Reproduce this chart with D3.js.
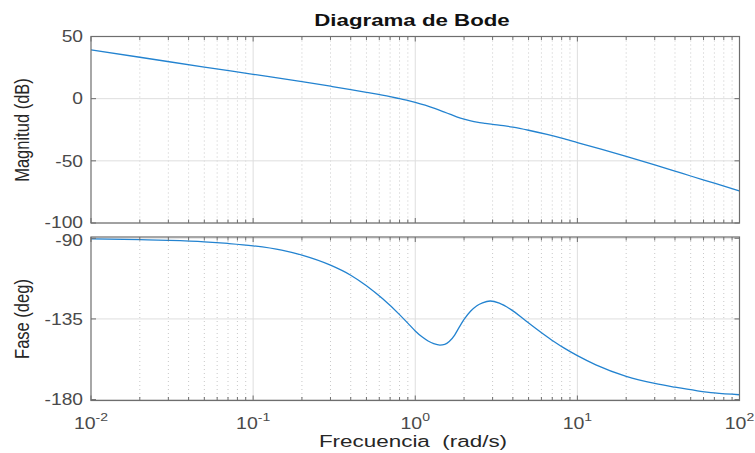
<!DOCTYPE html>
<html>
<head>
<meta charset="utf-8">
<script src="https://cdn.jsdelivr.net/npm/d3@7"></script>
<style>
  html, body { margin: 0; padding: 0; background: #fff; }
  svg { display: block; }
  text { white-space: pre; }
</style>
</head>
<body>
<svg id="chart" width="755" height="453"></svg>
<script>
// Frequency response samples (rad/s)
const magFreq = [0.01, 0.02, 0.05, 0.1, 0.2, 0.3, 0.4, 0.5, 0.7, 0.8, 0.92, 1.0, 1.15, 1.33, 1.5, 1.65, 1.8, 2.0, 2.2, 2.4, 2.7, 3.0, 3.5, 4.0, 5.0, 6.5, 8.0, 10, 14, 20, 30, 40, 50, 70, 100];
const magDb   = [39.2, 33.3, 25.4, 19.6, 13.7, 10.0, 7.3, 5.1, 1.6, 0, -1.7, -2.9, -5.2, -8.0, -10.6, -12.7, -14.6, -16.5, -17.8, -18.8, -19.8, -20.6, -21.7, -22.9, -25.4, -28.8, -31.8, -35.3, -40.6, -46.4, -53.3, -58.3, -62.2, -68.0, -74.2];

const phaseFreq = [0.01, 0.02, 0.03, 0.05, 0.07, 0.1, 0.15, 0.2, 0.3, 0.4, 0.5, 0.63, 0.8, 0.92, 1.0, 1.1, 1.2, 1.3, 1.42, 1.52, 1.62, 1.75, 1.85, 2.0, 2.2, 2.4, 2.6, 2.9, 3.3, 3.9, 4.8, 6.1, 7.2, 8.3, 10, 13, 20, 30, 40, 55, 70, 100];
const phaseDeg  = [-90.4, -90.8, -91.2, -92.0, -92.9, -94.2, -96.6, -99.4, -105.0, -110.6, -116.5, -123.8, -132.6, -138.3, -141.7, -145.0, -147.3, -148.8, -149.6, -149.2, -147.6, -144.0, -140.3, -135.3, -130.6, -127.6, -126.0, -125.0, -126.2, -129.8, -136.0, -143.1, -147.7, -151.3, -155.5, -160.6, -167.0, -171.0, -173.1, -175.1, -176.3, -177.3];

// Axis ticks
const xDecades = [0.01, 0.1, 1, 10, 100];
const xExponents = ["-2", "-1", "0", "1", "2"];
const magTicks = [50, 0, -50, -100];
const phaseTicks = [-90, -135, -180];

const titleText = "Diagrama de Bode";
const magLabel = "Magnitud (dB)";
const phaseLabel = "Fase (deg)";
const freqLabel = "Frecuencia  (rad/s)";

const svg = d3.select("#chart");
const left = 91, right = 739.5;
const gridMajor = "#dedede", gridMinor = "#c8c8c8", axisColor = "#6e6e6e";
const tickText = "#4a4a4a", labelText = "#262626", lineColor = "#2383d0";
const fontFam = "'Liberation Sans', Arial, Helvetica, sans-serif";

const x = d3.scaleLog().domain([0.01, 100]).range([left, right]);

// minor decade positions 2..9
const minorTicks = [];
xDecades.slice(0, -1).forEach(d => { for (let k = 2; k <= 9; k++) minorTicks.push(d * k); });

// horizontally widened text
function stretchedText(g, tx, ty, str, opts) {
  return g.append("g").attr("transform", `translate(${tx},${ty}) scale(${opts.sx || 1.22},1)`)
    .append("text")
    .attr("text-anchor", opts.anchor || "middle")
    .attr("font-family", fontFam)
    .attr("font-size", opts.size || 15)
    .attr("font-weight", opts.weight || "normal")
    .attr("fill", opts.fill || tickText)
    .text(str);
}

function panel(top, bottom, yDomain, yTicks, freqs, vals, name, labelShift) {
  const y = d3.scaleLinear().domain(yDomain).range([bottom, top]);
  const g = svg.append("g");

  g.append("rect").attr("x", left).attr("y", top).attr("width", right - left).attr("height", bottom - top).attr("fill", "#fff");

  // minor x grid (dotted)
  g.selectAll(".minor").data(minorTicks).enter().append("line")
    .attr("x1", d => x(d)).attr("x2", d => x(d)).attr("y1", top).attr("y2", bottom)
    .attr("stroke", gridMinor).attr("stroke-width", 1).attr("stroke-dasharray", "1,3");
  // major x grid
  g.selectAll(".majx").data(xDecades.slice(1, -1)).enter().append("line")
    .attr("x1", d => x(d)).attr("x2", d => x(d)).attr("y1", top).attr("y2", bottom)
    .attr("stroke", gridMajor).attr("stroke-width", 1);
  // major y grid
  g.selectAll(".majy").data(yTicks).enter().append("line")
    .attr("x1", left).attr("x2", right).attr("y1", d => y(d)).attr("y2", d => y(d))
    .attr("stroke", gridMajor).attr("stroke-width", 1);

  // response curve
  const clipId = "clip-" + name;
  svg.append("clipPath").attr("id", clipId).append("rect")
    .attr("x", left).attr("y", top).attr("width", right - left).attr("height", bottom - top);
  const pts = freqs.map((f, i) => [f, vals[i]]);
  g.append("path").datum(pts)
    .attr("clip-path", `url(#${clipId})`)
    .attr("fill", "none").attr("stroke", lineColor).attr("stroke-width", 1.3)
    .attr("d", d3.line().x(d => x(d[0])).y(d => y(d[1])).curve(d3.curveMonotoneX));

  // ticks on all four sides (inward)
  const tk = g.append("g").attr("stroke", axisColor).attr("stroke-width", 1);
  xDecades.forEach(d => {
    tk.append("line").attr("x1", x(d)).attr("x2", x(d)).attr("y1", bottom).attr("y2", bottom - 5);
    tk.append("line").attr("x1", x(d)).attr("x2", x(d)).attr("y1", top).attr("y2", top + 5);
  });
  minorTicks.forEach(d => {
    tk.append("line").attr("x1", x(d)).attr("x2", x(d)).attr("y1", bottom).attr("y2", bottom - 3.5);
    tk.append("line").attr("x1", x(d)).attr("x2", x(d)).attr("y1", top).attr("y2", top + 3.5);
  });
  yTicks.forEach(d => {
    tk.append("line").attr("x1", left).attr("x2", left + 5).attr("y1", y(d)).attr("y2", y(d));
    tk.append("line").attr("x1", right).attr("x2", right - 5).attr("y1", y(d)).attr("y2", y(d));
  });

  // frame
  g.append("rect").attr("x", left).attr("y", top).attr("width", right - left).attr("height", bottom - top)
    .attr("fill", "none").attr("stroke", axisColor).attr("stroke-width", 1.2);

  // y tick labels
  yTicks.forEach(d => {
    stretchedText(svg, left - 8, y(d) + 5.8 + (labelShift[d] || 0), String(d), { anchor: "end", size: 16, sx: 1.2 });
  });
  return y;
}

panel(36.5, 223, [-100, 50], magTicks, magFreq, magDb, "mag", { "-100": -1 });
panel(237, 400.5, [-180.5, -89.3], phaseTicks, phaseFreq, phaseDeg, "phase", { "-90": 2 });

// x tick labels 10^n
xDecades.forEach((d, i) => {
  const gg = svg.append("g").attr("transform", `translate(${x(d)},429) scale(1.22,1)`);
  const t = gg.append("text").attr("font-family", fontFam).attr("fill", tickText).attr("text-anchor", "middle");
  t.append("tspan").attr("font-size", 16).text("10");
  t.append("tspan").attr("font-size", 11.5).attr("dy", -8).text(xExponents[i]);
});

// title and axis labels
stretchedText(svg, 412, 26, titleText, { size: 16.5, weight: "bold", fill: "#111", sx: 1.35 });
stretchedText(svg, 413, 447, freqLabel, { size: 17, fill: labelText, sx: 1.32 });

const yl1 = svg.append("g").attr("transform", `translate(29,130) rotate(-90) scale(1.0,1.2)`);
yl1.append("text").attr("text-anchor", "middle").attr("font-family", fontFam).attr("font-size", 16.5).attr("fill", labelText).text(magLabel);
const yl2 = svg.append("g").attr("transform", `translate(29,319) rotate(-90) scale(1.0,1.2)`);
yl2.append("text").attr("text-anchor", "middle").attr("font-family", fontFam).attr("font-size", 16.5).attr("fill", labelText).text(phaseLabel);
</script>
</body>
</html>
